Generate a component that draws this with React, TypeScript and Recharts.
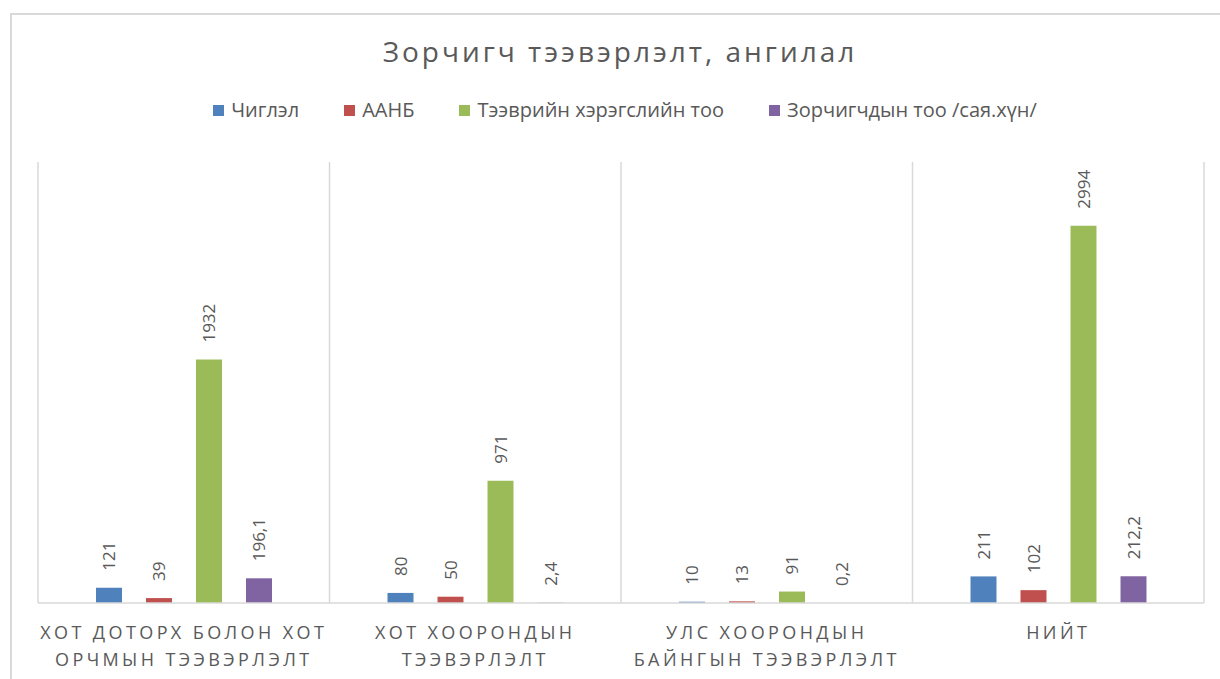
import React from "react";
import { BarChart, Bar, XAxis, YAxis, CartesianGrid, LabelList } from "recharts";

const title = "Зорчигч тээвэрлэлт, ангилал";
const categories = [
  "Хот доторх болон хот\nорчмын тээвэрлэлт",
  "Хот хоорондын\nтээвэрлэлт",
  "Улс хоорондын\nбайнгын тээвэрлэлт",
  "Нийт",
];
const seriesNames = ["Чиглэл", "ААНБ", "Тээврийн хэрэгслийн тоо", "Зорчигчдын тоо /сая.хүн/"];
const seriesColors = ["#4f81bd", "#c0504d", "#9bbb59", "#8064a2"];
const chiglel = [121, 80, 10, 211];
const aanb = [39, 50, 13, 102];
const teevriin = [1932, 971, 91, 2994];
const zorchigch = [196.1, 2.4, 0.2, 212.2];
const yDomain = [0, 3500];

const seriesValues = [chiglel, aanb, teevriin, zorchigch];
const keys = ["s0", "s1", "s2", "s3"];
const data = categories.map((c, i) => {
  const row: any = { name: c };
  keys.forEach((k, j) => (row[k] = seriesValues[j][i]));
  return row;
});

const FONT = "'Open Sans', 'Noto Sans', sans-serif";
const TEXT = "#595959";

const CatTick = (props: any) => {
  const { x, y, payload } = props;
  const lines = String(payload.value).toUpperCase().split("\n");
  return (
    <g transform={`translate(${x},${y})`}>
      {lines.map((l, i) => (
        <text
          key={i}
          x={0}
          y={28 + i * 27}
          textAnchor="middle"
          fill={TEXT}
          fontSize={18}
          fontFamily={FONT}
          style={{ letterSpacing: "3.4px" }}
        >
          {l}
        </text>
      ))}
    </g>
  );
};

const ValueLabel = (props: any) => {
  const { x, y, width, value } = props;
  const cx = x + width / 2;
  const ty = y - 17;
  return (
    <text
      x={cx}
      y={ty}
      transform={`rotate(-90, ${cx}, ${ty})`}
      textAnchor="start"
      dominantBaseline="central"
      fill={TEXT}
      fontSize={17}
      fontFamily={FONT}
    >
      {String(value).replace(".", ",")}
    </text>
  );
};

export default function App() {
  return (
    <div style={{ position: "fixed", left: 0, top: 0, width: 1220, height: 679, overflow: "hidden", background: "#fff" }}>
      <div
        style={{
          position: "absolute",
          left: 10,
          top: 13,
          width: 1240,
          height: 700,
          border: "2px solid #d9d9d9",
          boxSizing: "border-box",
        }}
      />
      <div
        style={{
          position: "absolute",
          left: 0,
          top: 31,
          width: 1240,
          textAlign: "center",
          fontFamily: FONT,
          fontSize: 28,
          lineHeight: "40px",
          color: TEXT,
          letterSpacing: "3px",
        }}
      >
        {title}
      </div>
      <div
        style={{
          position: "absolute",
          left: 0,
          top: 96,
          width: 1250,
          display: "flex",
          justifyContent: "center",
          fontFamily: FONT,
          fontSize: 20,
          lineHeight: "28px",
          color: TEXT,
        }}
      >
        {seriesNames.map((n, i) => (
          <div key={n} style={{ display: "flex", alignItems: "center", marginRight: i < 3 ? 45 : 0 }}>
            <span style={{ display: "inline-block", width: 11, height: 11, background: seriesColors[i], marginRight: 7 }} />
            <span>{n}</span>
          </div>
        ))}
      </div>
      <div style={{ position: "absolute", left: 0, top: 0 }}>
        <BarChart
          width={1220}
          height={679}
          data={data}
          margin={{ top: 162, right: 16, bottom: 0, left: 38 }}
          barSize={26}
          barGap={24}
        >
          <CartesianGrid
            horizontal={false}
            stroke="#d9d9d9"
            strokeWidth={1.5}
            verticalCoordinatesGenerator={({ offset }: any) =>
              categories.map((_, i) => offset.left + (i * offset.width) / categories.length).concat([offset.left + offset.width])
            }
          />
          <XAxis
            dataKey="name"
            axisLine={{ stroke: "#d9d9d9", strokeWidth: 1.5 }}
            tickLine={false}
            tick={<CatTick />}
            interval={0}
            height={76}
          />
          <YAxis hide domain={yDomain} />
          {keys.map((k, j) => (
            <Bar key={k} dataKey={k} name={seriesNames[j]} fill={seriesColors[j]} isAnimationActive={false}>
              <LabelList dataKey={k} content={<ValueLabel />} />
            </Bar>
          ))}
        </BarChart>
      </div>
    </div>
  );
}
